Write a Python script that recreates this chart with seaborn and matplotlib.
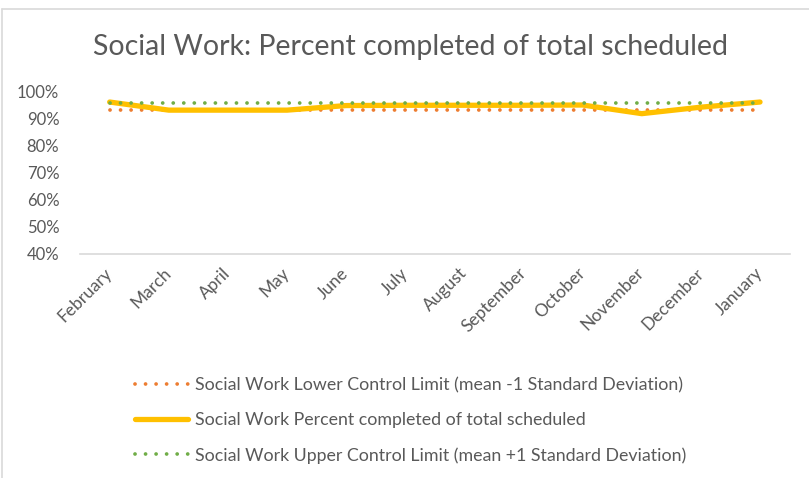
import pandas as pd
import matplotlib.pyplot as plt
import seaborn as sns
from matplotlib.lines import Line2D
from matplotlib.ticker import PercentFormatter

sns.set_theme(style="white")
plt.rcParams['font.family'] = ['Lato', 'DejaVu Sans']

# data
months = ['February', 'March', 'April', 'May', 'June', 'July', 'August',
          'September', 'October', 'November', 'December', 'January']
percent_completed = [96.2, 93.2, 93.2, 93.2, 94.9, 95.0, 95.0, 95.0, 95.1, 91.9, 94.3, 96.2]
lower_limit = [93.1] * 12
upper_limit = [95.7] * 12

lbl_lower = 'Social Work Lower Control Limit (mean -1 Standard Deviation)'
lbl_pct = 'Social Work Percent completed of total scheduled'
lbl_upper = 'Social Work Upper Control Limit (mean +1 Standard Deviation)'

orange = '#ED7D31'
yellow = '#FFC000'
green = '#70AD47'
txt = '#595959'

df = pd.DataFrame({'month': months, 'pct': percent_completed,
                   'low': lower_limit, 'up': upper_limit})

fig = plt.figure(figsize=(8.09, 4.78), dpi=100)
ax = fig.add_axes([0.099, 0.469, 0.877, 0.339])

dot = dict(linestyle=(0, (0.01, 2.8)), dash_capstyle='round', linewidth=2.7)
sns.lineplot(data=df, x='month', y='low', ax=ax, color=orange, sort=False, **dot)
sns.lineplot(data=df, x='month', y='pct', ax=ax, color=yellow, sort=False,
             linewidth=3.8, solid_capstyle='round')
sns.lineplot(data=df, x='month', y='up', ax=ax, color=green, sort=False, **dot)

ax.set_xlim(-0.5, 11.5)
ax.set_ylim(40, 100)
ax.set_yticks(range(40, 101, 10))
ax.yaxis.set_major_formatter(PercentFormatter(decimals=0))
ax.set_xlabel('')
ax.set_ylabel('')
for s in ['top', 'right', 'left']:
    ax.spines[s].set_visible(False)
ax.spines['bottom'].set_color('#D9D9D9')
ax.spines['bottom'].set_linewidth(1.2)
ax.tick_params(axis='y', labelsize=12, colors=txt, length=0, pad=15)
ax.tick_params(axis='x', labelsize=12.5, colors=txt, length=0, pad=12)
plt.setp(ax.get_xticklabels(), rotation=45, ha='right', va='center',
         rotation_mode='anchor')

fig.text(0.508, 0.902, 'Social Work: Percent completed of total scheduled',
         ha='center', va='center', fontsize=20.5, color=txt)

handles = [Line2D([], [], color=orange, **dot),
           Line2D([], [], color=yellow, linewidth=3.8, solid_capstyle='round'),
           Line2D([], [], color=green, **dot)]
leg = fig.legend(handles, [lbl_lower, lbl_pct, lbl_upper], loc='upper left',
                 bbox_to_anchor=(0.158, 0.225), frameon=False, fontsize=12.8,
                 handlelength=3.0, labelspacing=1.05, handletextpad=0.4,
                 labelcolor=txt, borderaxespad=0)

# chart border (left and top edges visible)
fig.add_artist(Line2D([0.0025, 0.0025], [0, 0.981], color='#D9D9D9', lw=1.2,
                      transform=fig.transFigure))
fig.add_artist(Line2D([0.0025, 1], [0.981, 0.981], color='#D9D9D9', lw=1.2,
                      transform=fig.transFigure))

fig.savefig('out.png', dpi=100)
